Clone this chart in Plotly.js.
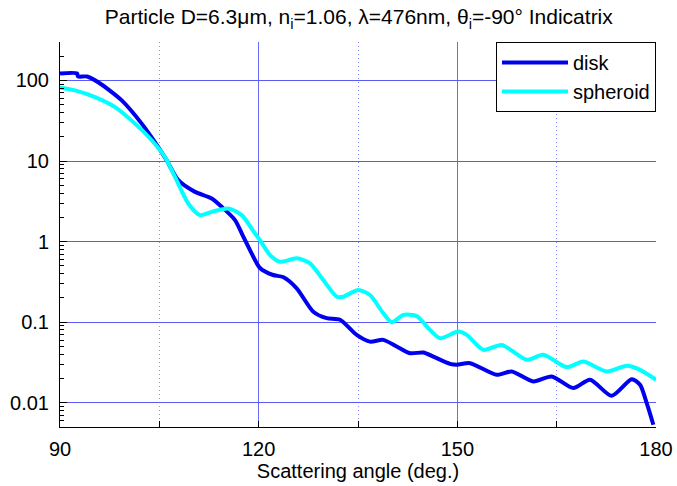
<!DOCTYPE html>
<html>
<head>
<meta charset="utf-8">
<script src="https://cdn.plot.ly/plotly-3.0.1.min.js"></script>
<style>html,body{margin:0;padding:0;background:#fff;}#chart{width:677px;height:486px;}</style>
</head>
<body>
<div id="chart"></div>
<script>
// Scattering angle (deg.) and indicatrix values
const diskAngle = [90.0, 92.57, 92.72, 94.08, 95.78, 99.32, 102.34, 104.84, 106.11, 107.86, 110.39, 112.91, 114.42, 116.43, 117.64, 118.69, 120.2, 122.17, 123.68, 125.74, 128.25, 130.27, 132.28, 134.8, 136.81, 138.82, 140.84, 142.85, 144.86, 146.37, 148.89, 149.9, 151.92, 155.95, 158.21, 161.47, 164.25, 167.51, 170.04, 173.31, 176.33, 177.59, 178.6, 179.6];
const diskValue = [122, 122, 112, 112, 95, 56.5, 29.1, 14.9, 10.2, 5.78, 4.14, 3.43, 2.70, 1.85, 1.17, 0.785, 0.47, 0.385, 0.363, 0.263, 0.135, 0.112, 0.107, 0.0695, 0.0574, 0.0603, 0.0498, 0.0412, 0.042, 0.0374, 0.0304, 0.0296, 0.031, 0.0222, 0.0244, 0.0184, 0.0212, 0.0152, 0.0193, 0.0122, 0.0196, 0.0167, 0.0099, 0.00534];

const spheroidAngle = [90.0, 92.27, 95.29, 98.31, 101.33, 103.85, 105.86, 107.37, 109.37, 111.14, 112.91, 115.42, 117.44, 119.45, 120.2, 121.71, 123.22, 125.74, 127.75, 129.76, 131.79, 132.78, 135.05, 136.81, 138.82, 140.09, 141.84, 143.87, 145.87, 147.38, 150.15, 151.42, 153.92, 156.7, 160.48, 162.98, 166.52, 169.02, 172.56, 175.58, 177.59, 180.0];
const spheroidValue = [81.9, 75.2, 62.1, 46.7, 29.1, 18.1, 11.2, 6.34, 2.97, 2.13, 2.34, 2.58, 2.13, 1.26, 1.04, 0.681, 0.562, 0.62, 0.537, 0.333, 0.207, 0.207, 0.251, 0.217, 0.129, 0.0997, 0.123, 0.119, 0.0802, 0.0632, 0.0764, 0.0695, 0.0453, 0.0522, 0.0341, 0.0393, 0.0277, 0.0324, 0.0244, 0.0287, 0.0256, 0.0193];

const yTickVals = [0.01, 0.1, 1, 10, 100];
const yTickText = ['0.01', '0.1', '1', '10', '100'];
const xTickVals = [90, 120, 150, 180];
const xMinorVals = [105, 135, 165];

// minor tick positions on the log axis (2..9 of each decade inside the range)
const yMinorVals = [];
[0.001, 0.01, 0.1, 1, 10, 100].forEach(d => { for (let k = 2; k <= 9; k++) { const v = d * k; if (v > 0.005 && v < 300) yMinorVals.push(v); } });

const font = 'Liberation Sans, Arial, Helvetica, sans-serif';

const traces = [
  {x: diskAngle, y: diskValue, name: 'disk', mode: 'lines', type: 'scatter',
   line: {color: '#0000ee', width: 4, shape: 'spline', smoothing: 0.7}},
  {x: spheroidAngle, y: spheroidValue, name: 'spheroid', mode: 'lines', type: 'scatter',
   line: {color: '#00ffff', width: 4, shape: 'spline', smoothing: 0.7}}
];

const layout = {
  width: 677, height: 486,
  margin: {l: 60, r: 21, t: 42, b: 59},
  paper_bgcolor: '#ffffff', plot_bgcolor: '#ffffff',
  font: {family: font, size: 20, color: '#000'},
  title: {text: 'Particle D=6.3\u03bcm, n<sub>i</sub>=1.06, \u03bb=476nm, \u03b8<sub>i</sub>=-90\u00b0 Indicatrix',
          font: {family: font, size: 21, color: '#000'}, x: 0.53, xanchor: 'center', y: 0.965, yanchor: 'middle'},
  xaxis: {
    range: [90, 180], tickvals: xTickVals, ticktext: xTickVals.map(String),
    ticks: 'inside', ticklen: 6, tickcolor: '#000', showline: true, linecolor: '#000', linewidth: 1,
    mirror: false, zeroline: false, showgrid: true, gridcolor: '#6a6af8', gridwidth: 1,
    minor: {tickvals: xMinorVals, ticks: 'inside', ticklen: 6, tickcolor: '#000', showgrid: true,
            gridcolor: '#8c8cff', griddash: '1px,3px', gridwidth: 1},
    tickfont: {size: 20}, ticklabelstandoff: 4,
    title: {text: 'Scattering angle (deg.)', font: {size: 20}, standoff: 3}
  },
  yaxis: {
    type: 'log', range: [Math.log10(0.005), Math.log10(300)],
    tickvals: yTickVals, ticktext: yTickText,
    ticks: 'inside', ticklen: 7, tickcolor: '#000', showline: true, linecolor: '#000', linewidth: 1,
    mirror: false, zeroline: false, showgrid: true, gridcolor: '#5a5af5', gridwidth: 1,
    minor: {tickvals: yMinorVals, ticks: 'inside', ticklen: 4, tickcolor: '#000', showgrid: false},
    tickfont: {size: 20}, ticklabelstandoff: 6
  },
  legend: {x: 1, xanchor: 'right', y: 1, yanchor: 'top', bgcolor: '#fff', bordercolor: '#000', borderwidth: 1,
           font: {size: 20}, itemwidth: 66, tracegroupgap: 0},
  showlegend: true
};

Plotly.newPlot('chart', traces, layout, {staticPlot: true, displayModeBar: false});
</script>
</body>
</html>
